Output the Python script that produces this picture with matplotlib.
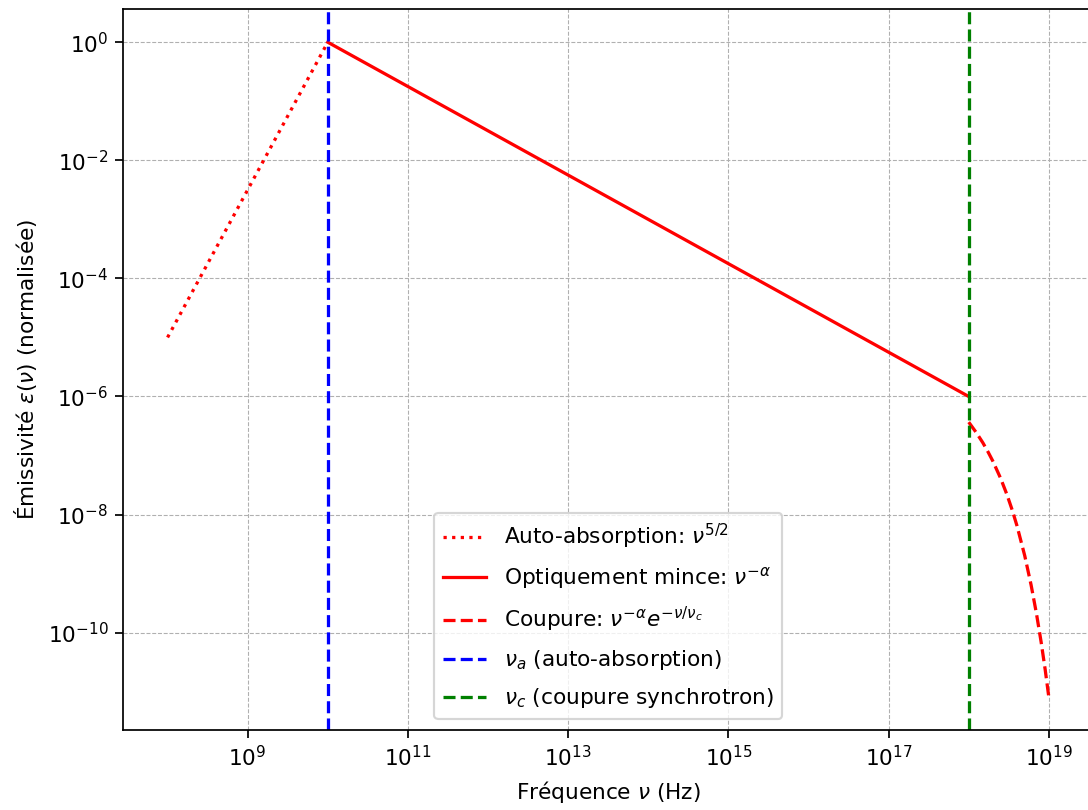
import numpy as np
import matplotlib.pyplot as plt

# break frequencies (Hz)
nu_a = 1e10
nu_c = 1e18

# self-absorbed branch
nu_abs = [1e8, 1e10]
em_abs = [1e-5, 1.0]

# optically thin branch
nu_thin = [1e10, 1e18]
em_thin = [1.0, 1e-6]

# exponential cutoff above nu_c
nu_cut = [1.0e18, 1.25e18, 1.5e18, 1.75e18, 2.0e18, 2.5e18, 3.0e18, 3.5e18,
          4.0e18, 5.0e18, 6.0e18, 7.0e18, 8.0e18, 9.0e18, 1.0e19]
em_cut = [3.68e-7, 2.42e-7, 1.65e-7, 1.14e-7, 8.05e-8, 4.13e-8, 2.18e-8, 1.18e-8,
          6.48e-9, 2.02e-9, 6.47e-10, 2.12e-10, 7.05e-11, 2.38e-11, 8.07e-12]

dpi = 156
fig = plt.figure(figsize=(1088 / dpi, 810 / dpi), dpi=dpi)
ax = fig.add_axes([0.1135, 0.0988, 0.891, 0.8895])

ax.loglog(nu_abs, em_abs, 'r:', label=r'Auto-absorption: $\nu^{5/2}$')
ax.loglog(nu_thin, em_thin, 'r-', label=r'Optiquement mince: $\nu^{-\alpha}$')
ax.loglog(nu_cut, em_cut, 'r--', label=r'Coupure: $\nu^{-\alpha}e^{-\nu/\nu_c}$')
ax.axvline(nu_a, color='b', linestyle='--', label=r'$\nu_a$ (auto-absorption)')
ax.axvline(nu_c, color='g', linestyle='--', label=r'$\nu_c$ (coupure synchrotron)')

ax.set_xlabel(r'Fréquence $\nu$ (Hz)')
ax.set_ylabel(r'Émissivité $\epsilon(\nu)$ (normalisée)')
ax.grid(True, which='major', ls='--', lw=0.5)
ax.legend(loc='lower center', labelspacing=0.65)

fig.savefig('out.png', dpi=dpi)
